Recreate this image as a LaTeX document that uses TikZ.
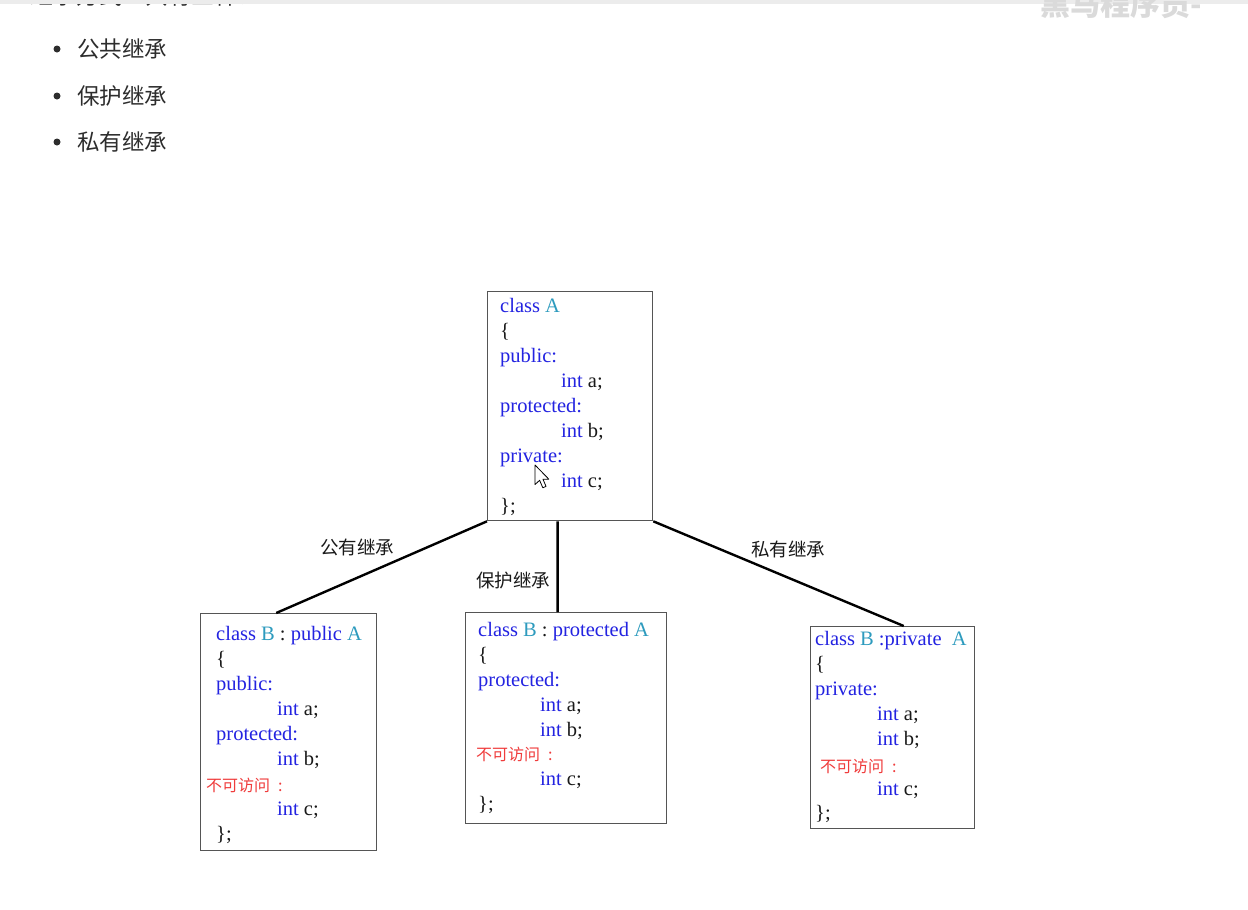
\documentclass[tikz,border=0pt]{standalone}
\usepackage{fontspec}
\setmainfont{Liberation Serif}
\newfontfamily\cjk{Noto Sans CJK SC}
\usetikzlibrary{calc}

\definecolor{kwblue}{RGB}{35,35,225}
\definecolor{tyteal}{RGB}{45,155,190}
\definecolor{noaccess}{RGB}{240,60,60}
\definecolor{codeblack}{RGB}{25,25,25}
\definecolor{uitext}{RGB}{45,45,45}
\definecolor{boxline}{RGB}{85,85,85}
\definecolor{topbar}{RGB}{236,236,236}
\definecolor{mark}{RGB}{218,218,218}

\newcommand\kwd[1]{\textcolor{kwblue}{#1}}
\newcommand\tname[1]{\textcolor{tyteal}{#1}}

\tikzset{
  classbox/.style={draw=boxline, line width=1.3pt, fill=white, anchor=north west, inner sep=0pt},
  codeline/.style={anchor=base west, inner sep=0pt, text=codeblack, font=\fontsize{20.5}{25}\selectfont},
  redline/.style={anchor=base west, inner sep=0pt, text=noaccess, font=\cjk\fontsize{16}{20}\selectfont},
  edgelabel/.style={inner sep=0pt, text=codeblack, font=\cjk\fontsize{18.5}{22}\selectfont},
  listitem/.style={anchor=west, inner sep=0pt, text=uitext, font=\cjk\fontsize{22.5}{26}\selectfont},
  bulletdot/.style={circle, fill=uitext, inner sep=0pt, minimum size=7pt},
  link/.style={line width=2.4pt, black}
}

\begin{document}
\begin{tikzpicture}[x=1pt,y=-1pt]
\useasboundingbox[fill=white] (0,0) rectangle (1248,910);

% page heading, scrolled mostly out of view, and the window watermark
\begin{scope}
  \clip (0,0) rectangle (1248,40);
  \node[anchor=base west, inner sep=0pt, text=uitext, font=\cjk\fontsize{23}{26}\selectfont] (heading) at (30,5) {继承方式一共有三种：};
  \fill[topbar] (0,0) rectangle (1248,3.5);
  \node[anchor=base west, inner sep=0pt, text=mark, font=\cjk\bfseries\fontsize{30}{32}\selectfont] (wmark) at (1040,15) {黑马程序员-};
\end{scope}

% list of inheritance modes
\node[bulletdot] (d1) at (57,49) {};
\node[listitem] (l1) at (77,49) {公共继承};
\node[bulletdot] (d2) at (57,96) {};
\node[listitem] (l2) at (77,96) {保护继承};
\node[bulletdot] (d3) at (57,142) {};
\node[listitem] (l3) at (77,142) {私有继承};

% class boxes
\node[classbox, minimum width=165pt, minimum height=229pt] (A) at (487,291) {};
\node[classbox, minimum width=176pt, minimum height=237pt] (B1) at (200,613) {};
\node[classbox, minimum width=201pt, minimum height=211pt] (B2) at (465,612) {};
\node[classbox, minimum width=164pt, minimum height=202pt] (B3) at (810,626) {};

% connectors
\draw[link] (A.south west) -- ($(B1.north west)!0.43!(B1.north east)$);
\draw[link] ($(A.south west)!0.425!(A.south east)$) -- ($(B2.north west)!0.458!(B2.north east)$);
\draw[link] (A.south east) -- ($(B3.north west)!0.567!(B3.north east)$);

\node[edgelabel] (e1) at (357,547) {公有继承};
\node[edgelabel] (e2) at (513,580) {保护继承};
\node[edgelabel] (e3) at (788,549) {私有继承};

% base class A
\node[codeline] (a1) at (500,312) {\kwd{class} \tname{A}};
\node[codeline] (a2) at (500,337) {\{};
\node[codeline] (a3) at (500,362) {\kwd{public:}};
\node[codeline] (a4) at (561,387) {\kwd{int} a;};
\node[codeline] (a5) at (500,412) {\kwd{protected:}};
\node[codeline] (a6) at (561,437) {\kwd{int} b;};
\node[codeline] (a7) at (500,462) {\kwd{private:}};
\node[codeline] (a8) at (561,487) {\kwd{int} c;};
\node[codeline] (a9) at (500,512) {\};};

% public inheritance
\node[codeline] (p1) at (216,640) {\kwd{class} \tname{B} : \kwd{public} \tname{A}};
\node[codeline] (p2) at (216,665) {\{};
\node[codeline] (p3) at (216,690) {\kwd{public:}};
\node[codeline] (p4) at (277,715) {\kwd{int} a;};
\node[codeline] (p5) at (216,740) {\kwd{protected:}};
\node[codeline] (p6) at (277,765) {\kwd{int} b;};
\node[redline]  (p7) at (206,791) {不可访问\hspace{0.5em}:};
\node[codeline] (p8) at (277,815) {\kwd{int} c;};
\node[codeline] (p9) at (216,840) {\};};

% protected inheritance
\node[codeline] (q1) at (478,636) {\kwd{class} \tname{B} : \kwd{protected} \tname{A}};
\node[codeline] (q2) at (478,661) {\{};
\node[codeline] (q3) at (478,686) {\kwd{protected:}};
\node[codeline] (q4) at (540,711) {\kwd{int} a;};
\node[codeline] (q5) at (540,736) {\kwd{int} b;};
\node[redline]  (q6) at (476,760) {不可访问\hspace{0.5em}:};
\node[codeline] (q7) at (540,785) {\kwd{int} c;};
\node[codeline] (q8) at (478,810) {\};};

% private inheritance
\node[codeline] (r1) at (815,645) {\kwd{class} \tname{B} \kwd{:private} ~\tname{A}};
\node[codeline] (r2) at (815,670) {\{};
\node[codeline] (r3) at (815,695) {\kwd{private:}};
\node[codeline] (r4) at (877,720) {\kwd{int} a;};
\node[codeline] (r5) at (877,745) {\kwd{int} b;};
\node[redline]  (r6) at (820,772) {不可访问\hspace{0.5em}:};
\node[codeline] (r7) at (877,795) {\kwd{int} c;};
\node[codeline] (r8) at (815,819) {\};};

% mouse pointer
\draw[fill=white, line width=0.8pt, line join=round, shift={(535,465)}, scale=1.15]
  (0,0) -- (0,17) -- (4,13.3) -- (6.8,19.8) -- (9.6,18.6) -- (6.9,12.3) -- (12,12.3) -- cycle;
\end{tikzpicture}
\end{document}
